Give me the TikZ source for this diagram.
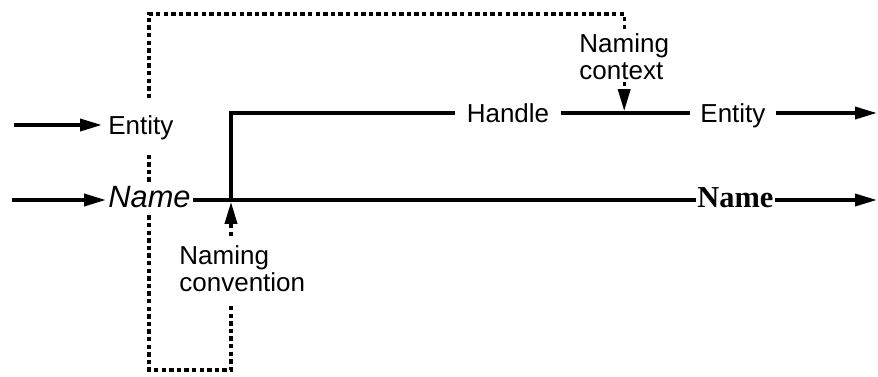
\documentclass[tikz,border=0pt]{standalone}
\usepackage{fontspec}
\setmainfont{Liberation Sans}
\newfontfamily\timesfont{Liberation Serif}
\usetikzlibrary{arrows.meta,backgrounds}
\tikzset{
  lbl/.style      = {font=\fontsize{13}{13.5}\selectfont, inner xsep=5pt, inner ysep=1pt,
                     text height=9.4pt, text depth=0pt},
  twoline/.style  = {font=\fontsize{13}{13.5}\selectfont, inner sep=1pt, align=left},
  nm/.style       = {inner xsep=1pt, inner ysep=2pt, text height=9pt, text depth=2pt},
  mask/.style     = {fill=white, inner ysep=#1},
  wire/.style     = {line width=1.8pt},
  flow/.style     = {wire, -{Triangle[length=11pt, width=6pt]}},
  dashline/.style = {line width=1.7pt, dash pattern=on 2.2pt off 1.6pt},
  hint/.style     = {dashline, -{Triangle[length=11pt, width=6pt]}},
}

\begin{document}
\begin{tikzpicture}[x=0.5pt, y=-0.5pt]
  \useasboundingbox (0,0) rectangle (878,376);

  % inputs on the left
  \node[lbl, mask=9pt, inner xsep=3pt, anchor=west] (entA) at (102,125) {Entity};
  \node[nm, mask=2pt, anchor=west, font=\fontsize{15.4}{16}\selectfont\itshape] (nameA) at (106,200) {Name};

  % handle row and outputs
  \node[lbl, inner xsep=5.5pt] (handle) at (508,113) {Handle};
  \node[lbl, anchor=west] (entB) at (690,113) {Entity};
  \node[nm, inner xsep=0.5pt, anchor=west, font=\timesfont\bfseries\fontsize{15.2}{16}\selectfont] (nameB) at (696,200) {Name};

  % the two conventions
  \node[twoline, anchor=north west] (context) at (577,31) {Naming\\context};
  \node[twoline, anchor=north west] (convention) at (177,243) {Naming\\convention};

  \coordinate (inE) at (14,125);
  \coordinate (inN) at (12,200);
  \coordinate (outE) at (877,113);
  \coordinate (outN) at (877,200);
  \coordinate (j1) at (231,200);
  \coordinate (j2) at (context.south |- handle.east);
  \coordinate (lpB) at (149,370);
  \coordinate (lpT) at (149,14);

  \draw[flow] (inE) -- (entA);
  \draw[flow] (inN) -- (nameA);
  \draw[wire] (nameA) -- (nameB);
  \draw[flow] (nameB) -- (outN);
  \draw[wire] (j1) |- (handle);
  \draw[wire] (handle) -- (entB);
  \draw[flow] (entB) -- (outE);

  \draw[hint, shorten <=3.5pt, shorten >=0.9pt] (convention.north -| j1) -- (j1);
  \draw[hint, shorten >=0.9pt] (context) -- (j2);

  \begin{scope}[on background layer]
    \draw[dashline, shorten <=6pt, shorten >=1pt] (convention.south -| j1) |- (lpB) -- (lpT) -| (context.north);
  \end{scope}
\end{tikzpicture}
\end{document}
